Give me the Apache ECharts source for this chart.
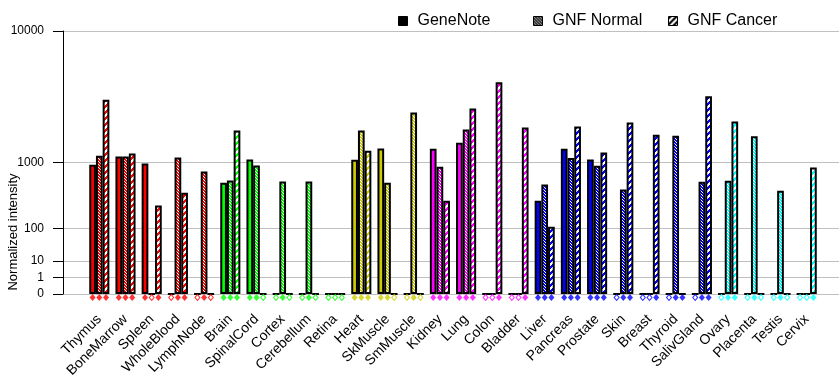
<!DOCTYPE html>
<html><head><meta charset="utf-8">
<script src="https://cdn.jsdelivr.net/npm/echarts@6/dist/echarts.min.js"></script>
<style>html,body{margin:0;padding:0;background:#fff}#c{width:840px;height:385px}</style>
</head><body><div id="c"></div>
<script>
// ---------------- data ----------------
const categories = ['Thymus','BoneMarrow','Spleen','WholeBlood','LymphNode','Brain','SpinalCord','Cortex','Cerebellum','Retina','Heart','SkMuscle','SmMuscle','Kidney','Lung','Colon','Bladder','Liver','Pancreas','Prostate','Skin','Breast','Thyroid','SalivGland','Ovary','Placenta','Testis','Cervix'];
const tissueGroup = ['immune','immune','immune','immune','immune','neural','neural','neural','neural','neural','muscle','muscle','muscle','organ','organ','organ','organ','gland','gland','gland','gland','gland','gland','gland','repro','repro','repro','repro'];
const seriesNames = ['GeneNote','GNF Normal','GNF Cancer'];
// null = no data (hollow marker)
const geneNote  = [945,1162,977,null,null,574,1080,null,null,null,1072,1402,null,1392,1593,null,null,319,1392,1080,null,null,null,null,null,null,null,null];
const gnfNormal = [1182,1162,null,1134,792,615,928,597,597,null,2066,574,2923,897,2109,null,null,545,1118,921,467,null,1852,592,609,1826,448,null];
const gnfCancer = [3662,1248,269,420,null,2066,null,null,null,null,1330,null,null,319,3141,4859,2192,108,2238,1278,2419,1891,0,3871,2467,null,null,881];
const tickValues = [0,1,10,100,1000,10000];
const tickLabels = ['0','1','10','100','1000','10000'];

// ---------------- style ----------------
const groupColors = {immune:'#ff0000', neural:'#00ff00', muscle:'#cccc00', organ:'#ff00ff', gland:'#0000ff', repro:'#00ffff'};
const FONT = 'Arial, "Liberation Sans", sans-serif';
// axis transform: each decade doubles the height
const tf = v => (v == null || v <= 0) ? 0 : Math.pow(2, Math.log10(v));

function makeFill(color, kind) {
  if (kind === 'solid') return color;
  const c = document.createElement('canvas');
  if (kind === 'normal') {
    const s = 3; c.width = s; c.height = s;
    const g = c.getContext('2d');
    g.fillStyle = color; g.fillRect(0,0,s,s);
    g.fillStyle = '#fff';
    for (let i = 0; i < s; i++) g.fillRect(i, i, 1, 1);
  } else {
    const s = 6; c.width = s; c.height = s;
    const g = c.getContext('2d');
    g.fillStyle = '#fff'; g.fillRect(0,0,s,s);
    g.fillStyle = color;
    for (let y = 0; y < s; y++) for (let x = 0; x < s; x++) if ((x + y) % s < 3) g.fillRect(x, y, 1, 1);
  }
  return {image: c, repeat: 'repeat'};
}

const kinds = ['solid','normal','cancer'];
const allValues = [geneNote, gnfNormal, gnfCancer];
const BW = 6.7;

const series = [];
allValues.forEach((vals, si) => {
  series.push({
    type: 'bar', name: seriesNames[si], xAxisIndex: 0, yAxisIndex: 0,
    barWidth: BW, barGap: '0%', z: 3, silent: true,
    itemStyle: {color: makeFill('#000', kinds[si]), borderColor: '#000', borderWidth: 2},
    data: vals.map((v, i) => ({
      value: tf(v),
      itemStyle: {color: makeFill(groupColors[tissueGroup[i]], kinds[si]), borderColor: '#000', borderWidth: 2}
    }))
  });
});
allValues.forEach((vals, si) => {
  series.push({
    type: 'scatter', name: seriesNames[si] + ' marker', xAxisIndex: 0, yAxisIndex: 0,
    symbol: 'diamond', clip: false, silent: true, z: 6,
    symbolOffset: [(si - 1) * BW, 3.5],
    data: vals.map((v, i) => {
      const col = groupColors[tissueGroup[i]];
      return v == null
        ? {value: [i, 0], symbolSize: [5, 6], itemStyle: {color: '#fff', borderColor: col, borderWidth: 1}}
        : {value: [i, 0], symbolSize: [6, 7], itemStyle: {color: col, borderWidth: 0}};
    })
  });
});

const tickPos = tickValues.map(tf);

const option = {
  animation: false,
  backgroundColor: '#fff',
  grid: [
    {left: 86.2, right: 20.2, top: 31, bottom: 91, containLabel: false},
    {left: 63, right: 1, top: 31, bottom: 91, containLabel: false}
  ],
  xAxis: [
    {gridIndex: 0, type: 'category', data: categories, boundaryGap: true,
     axisLine: {show: false}, axisTick: {show: false}, splitLine: {show: false},
     axisLabel: {interval: 0, rotate: 45, margin: 23, fontSize: 14, color: '#000', fontFamily: FONT}},
    {gridIndex: 1, type: 'value', min: 0, max: 1, show: false}
  ],
  yAxis: [
    {gridIndex: 0, type: 'value', min: 0, max: 16, show: false, splitLine: {show: false}},
    {gridIndex: 1, type: 'value', min: 0, max: 16, interval: 16,
     axisLine: {show: true, lineStyle: {color: '#000', width: 1}},
     axisTick: {show: true, length: 10, lineStyle: {color: '#000'}, customValues: tickPos},
     axisLabel: {customValues: tickPos, margin: 19, fontSize: 12, color: '#000', fontFamily: FONT,
       formatter: val => { const k = tickPos.findIndex(p => Math.abs(p - val) < 1e-6); return k >= 0 ? tickLabels[k] : ''; }},
     splitLine: {show: true, lineStyle: {color: '#c0c0c0', width: 1}}}
  ],
  legend: seriesNames.map((n, i) => ({
    data: [n], left: [398, 533, 668][i], top: 13, padding: 0, itemGap: 0,
    itemWidth: 9, itemHeight: 9, selectedMode: false, icon: 'rect',
    itemStyle: {borderColor: '#000', borderWidth: 1},
    textStyle: {fontSize: 16, color: '#000', fontFamily: FONT, padding: [0, 0, 0, 5]}
  })),
  graphic: [{
    type: 'text', x: 13, y: 232, rotation: Math.PI / 2,
    style: {text: 'Normalized intensity', font: '13px ' + FONT, fill: '#000', align: 'center', verticalAlign: 'middle'}
  }],
  series: series
};

const chart = echarts.init(document.getElementById('c'), null, {renderer: 'canvas'});
chart.setOption(option);
</script>
</body></html>
